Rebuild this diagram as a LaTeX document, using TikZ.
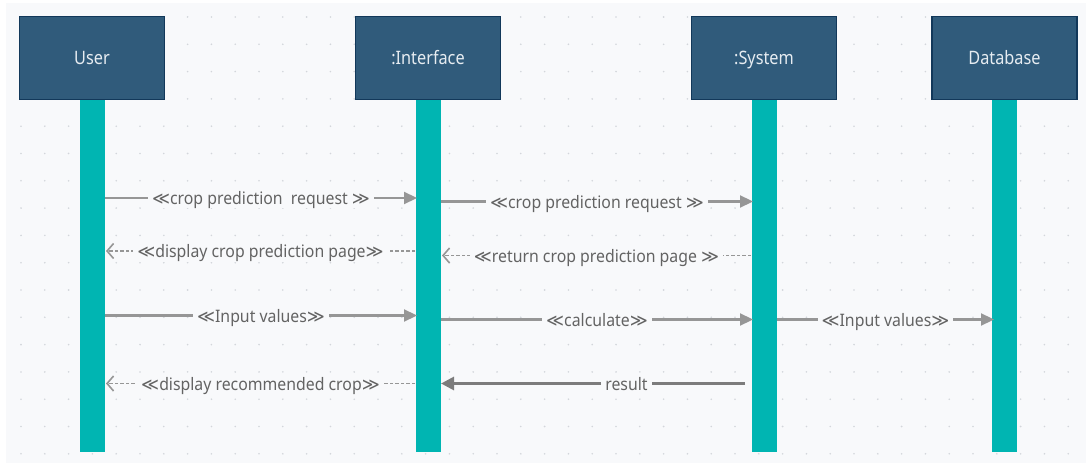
\documentclass[tikz,border=0pt]{standalone}
\usepackage{fontspec}
\setmainfont{Noto Sans}
\newfontfamily\symfont{DejaVu Sans}
\newfontfamily\boxfont[FakeStretch=0.88]{Noto Sans}
\newfontfamily\lblfont[FakeStretch=0.92]{Noto Sans}
\usetikzlibrary{arrows.meta}
\newcommand\gsl{{\symfont ≪}}
\newcommand\gsr{{\symfont ≫}}
\definecolor{canvas}{HTML}{F8F9FB}
\definecolor{dotc}{HTML}{D3D6DB}
\definecolor{boxfill}{HTML}{305B7B}
\definecolor{boxline}{HTML}{12385A}
\definecolor{boxtext}{HTML}{E6ECF1}
\definecolor{teal}{HTML}{00B5B2}
\definecolor{arrowgray}{HTML}{969696}
\definecolor{resgray}{HTML}{7C7C7C}
\definecolor{labelgray}{HTML}{636363}
\begin{document}
\begin{tikzpicture}[x=1pt,y=-1pt,
  actor/.style={draw=boxline, line width=1.6pt, fill=boxfill, text=boxtext,
    minimum width=145pt, minimum height=83pt, inner sep=0pt,
    text height=13pt, text depth=0pt,
    font=\boxfont\fontsize{18.5}{22}\selectfont},
  lifeline/.style={fill=teal, minimum width=25pt, minimum height=353pt, inner sep=0pt},
  msg/.style={draw=arrowgray, line width=2.2pt, -{Triangle[length=13pt,width=12pt]}},
  ret/.style={draw=arrowgray, line width=1.5pt, dash pattern=on 3.5pt off 2pt,
    -{Straight Barb[length=6.5pt,width=15pt,line width=1.6pt]}},
  res/.style={draw=resgray, line width=2.8pt, -{Triangle[length=13pt,width=13pt]}},
  lbl/.style={fill=canvas, text=labelgray, inner xsep=4pt, inner ysep=0pt,
    text height=13pt, text depth=4pt, yshift=-2pt,
    font=\lblfont\fontsize{17.2}{20}\selectfont}]
\useasboundingbox (0,0) rectangle (1092,465);
% canvas with dot grid
\fill[canvas] (6,3) rectangle (1086,463);
\foreach \i in {0,...,44}
  \foreach \j in {0,...,16}
    \fill[dotc] ({21+23.8*\i},{17+27.3*\j}) circle (0.9);
% lifelines
\node[lifeline] (lu) at (92.5,275.5) {};
\node[lifeline] (li) at (428,275.5) {};
\node[lifeline] (ls) at (764,275.5) {};
\node[lifeline] (ld) at (1004.5,275.5) {};
% participants
\node[actor] (user) at (92,58) {User};
\node[actor] (iface) at (428,58) {:Interface};
\node[actor] (sys) at (764,58) {:System};
\node[actor] (db) at (1004.5,58) {Database};
% message anchor points
\coordinate (u1) at (105,198);   \coordinate (i1) at (417,198);
\coordinate (i1b) at (441,201.5); \coordinate (s1) at (753,201.5);
\coordinate (i2) at (415,251);   \coordinate (u2) at (106,251);
\coordinate (s2) at (751,255.5); \coordinate (i2b) at (442,255.5);
\coordinate (u3) at (105,315.5); \coordinate (i3) at (417,315.5);
\coordinate (i3b) at (441,319.5); \coordinate (s3) at (753,319.5);
\coordinate (s3b) at (777,319.5); \coordinate (d3) at (994,319.5);
\coordinate (i4) at (415,383.5); \coordinate (u4) at (106,383.5);
\coordinate (s4) at (745,383.5); \coordinate (i4b) at (441,383.5);
% messages
\draw[msg] (u1) -- node[lbl] {\gsl crop prediction\ \ request \gsr} (i1);
\draw[msg] (i1b) -- node[lbl] {\gsl crop prediction request \gsr} (s1);
\draw[ret] (i2) -- node[lbl] {\gsl display crop prediction page\gsr} (u2);
\draw[ret] (s2) -- node[lbl] {\gsl return crop prediction page \gsr} (i2b);
\draw[msg] (u3) -- node[lbl] {\gsl Input values\gsr} (i3);
\draw[msg] (i3b) -- node[lbl] {\gsl calculate\gsr} (s3);
\draw[msg] (s3b) -- node[lbl] {\gsl Input values\gsr} (d3);
\draw[ret] (i4) -- node[lbl] {\gsl display recommended crop\gsr} (u4);
\draw[res] (s4) -- node[lbl, pos=0.39] {result} (i4b);
\end{tikzpicture}
\end{document}
